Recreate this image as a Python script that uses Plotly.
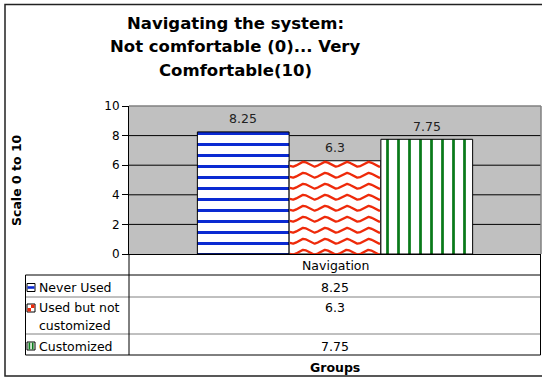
import numpy as np
import plotly.graph_objects as go

# ---- data ----
categories = ["Navigation"]
series_names = ["Never Used", "Used but not customized", "Customized"]
values = [8.25, 6.3, 7.75]
y_ticks = [0, 2, 4, 6, 8, 10]
title_lines = ["Navigating the system:", "Not comfortable (0)... Very", "Comfortable(10)"]
y_title = "Scale 0 to 10"
x_title = "Groups"

# ---- geometry (pixels) ----
W, H = 542, 377
L, R, T, B = 129, 541, 106, 254          # plot area
XR = 2.245                               # half range of the x axis
bar_x = [-1, 0, 1]                       # one slot per series
PXX = (R - L) / (2 * XR)                 # px per x unit
PXY = (B - T) / 10.0                     # px per y unit

BLUE = "#0A2AD2"
RED = "#EE2A0A"
GREEN = "#0A7A1A"
FONT = "DejaVu Sans"


def px(x):
    return (x - L) / (R - L)


def py(y):
    return (B - y) / (B - T)


fig = go.Figure()

# bars
fig.add_trace(go.Bar(
    x=[bar_x[0]], y=[values[0]], width=1, name=series_names[0],
    marker=dict(color="white", opacity=1, line=dict(color="black", width=1),
                pattern=dict(shape="-", fgcolor=BLUE, bgcolor="white",
                             fgopacity=1, size=11, solidity=0.27)),
    opacity=1, hoverinfo="skip"))
fig.add_trace(go.Bar(
    x=[bar_x[1]], y=[values[1]], width=1, name=series_names[1],
    marker=dict(color="white", opacity=1, line=dict(color="black", width=1)),
    opacity=1, hoverinfo="skip"))
fig.add_trace(go.Bar(
    x=[bar_x[2]], y=[values[2]], width=1, name=series_names[2],
    marker=dict(color="white", opacity=1, line=dict(color="black", width=1),
                pattern=dict(shape="|", fgcolor=GREEN, bgcolor="white",
                             fgopacity=1, size=11, solidity=0.25)),
    opacity=1, hoverinfo="skip"))

# wavy fill for the middle bar, built from its value
v = values[1]
x0 = bar_x[1] - 0.5 + 0.8 / PXX
x1 = bar_x[1] + 0.5 - 0.8 / PXX
xx = np.linspace(x0, x1, 240)
amp = 2.4 / PXY
wx, wy = [], []
k = 0
while True:
    yc = v - (3.5 + 11 * k) / PXY
    if yc + amp < 0:
        break
    yy = yc + amp * np.cos(2 * np.pi * ((xx - (bar_x[1] - 0.5)) * PXX - 14.3) / 21.7)
    wx += list(xx) + [None]
    wy += list(yy) + [None]
    k += 1
fig.add_trace(go.Scatter(x=wx, y=wy, mode="lines",
                         line=dict(color=RED, width=2.3),
                         hoverinfo="skip", showlegend=False))

shapes = []
# horizontal grid lines
for t in y_ticks[1:-1]:
    shapes.append(dict(type="line", xref="paper", yref="y", x0=0, x1=1, y0=t, y1=t,
                       line=dict(color="black", width=1), layer="below"))
# plot area top / right border
shapes.append(dict(type="line", xref="paper", yref="paper", x0=0, x1=1, y0=1, y1=1,
                   line=dict(color="#808080", width=1.5), layer="above"))
shapes.append(dict(type="line", xref="paper", yref="paper", x0=1, x1=1, y0=0, y1=1,
                   line=dict(color="#808080", width=1.5), layer="above"))

# data table lines
def hline(y, xa, xb, color="black"):
    shapes.append(dict(type="line", xref="paper", yref="paper",
                       x0=px(xa), x1=px(xb), y0=py(y), y1=py(y),
                       line=dict(color=color, width=1)))


def vline(x, ya, yb, color="black"):
    shapes.append(dict(type="line", xref="paper", yref="paper",
                       x0=px(x), x1=px(x), y0=py(ya), y1=py(yb),
                       line=dict(color=color, width=1)))


TL = 25.5
hline(275, TL, R - 0.5)
hline(297, TL, R - 0.5, "#808080")
hline(334, TL, R - 0.5, "#808080")
hline(355, TL, R - 0.5)
vline(TL, 275, 355)
vline(L, B, 355)
vline(R - 0.5, B, 355)

# outer chart frame
shapes.append(dict(type="rect", xref="paper", yref="paper",
                   x0=px(5), x1=px(560), y0=py(4.5), y1=py(376),
                   line=dict(color="#222222", width=1.5)))

# legend keys in the table
row_y = [287.5, 308.0, 346.0]
KX0, KX1 = 27, 35


def key_box(yc):
    shapes.append(dict(type="rect", xref="paper", yref="paper",
                       x0=px(KX0), x1=px(KX1), y0=py(yc - 4), y1=py(yc + 4),
                       line=dict(color="black", width=1), fillcolor="white"))


def key_fill(xa, xb, ya, yb, color):
    shapes.append(dict(type="rect", xref="paper", yref="paper",
                       x0=px(xa), x1=px(xb), y0=py(ya), y1=py(yb),
                       line=dict(width=0), fillcolor=color))


key_box(row_y[0])
key_fill(KX0 + 0.5, KX1 - 0.5, row_y[0] - 1.3, row_y[0] + 1.3, BLUE)
key_box(row_y[1])
key_fill(KX0 + 0.5, KX0 + 4, row_y[1], row_y[1] + 3.5, RED)
key_fill(KX0 + 4, KX1 - 0.5, row_y[1] - 3.5, row_y[1], RED)
key_box(row_y[2])
key_fill(KX0 + 1.5, KX0 + 3.3, row_y[2] - 3.5, row_y[2] + 3.5, GREEN)
key_fill(KX0 + 4.8, KX0 + 6.6, row_y[2] - 3.5, row_y[2] + 3.5, GREEN)

annotations = []


def label(text, x, y, size=12.5, bold=False, xanchor="center", angle=0):
    annotations.append(dict(
        text=text, xref="paper", yref="paper", x=px(x), y=py(y),
        xanchor=xanchor, yanchor="middle", showarrow=False, textangle=angle,
        font=dict(family=FONT, size=size, color="black",
                  weight="bold" if bold else "normal")))


# title, three centred lines
for line_text, ty in zip(title_lines, [23.5, 47, 70.5]):
    label(line_text, 235, ty, size=16.5, bold=True)

label(y_title, 16, 180, size=12.5, bold=True, angle=-90)
label(x_title, 335, 367, size=12.5, bold=True)

# value labels above the bars
for xi, val in zip(bar_x, values):
    annotations.append(dict(
        text=f"{val:g}", x=xi, y=val, xref="x", yref="y", yshift=13,
        xanchor="center", yanchor="middle", showarrow=False,
        font=dict(family=FONT, size=12.5, color="#222222")))

# table contents
mid_x = (L + R) / 2
label(categories[0], mid_x, 265.5)
label(f"{values[0]:g}", mid_x, row_y[0])
label(f"{values[1]:g}", mid_x, 307.5)
label(f"{values[2]:g}", mid_x, row_y[2])
label("Never Used", 37, row_y[0], xanchor="left")
label("Used but not", 37, 307.5, xanchor="left")
label("customized", 37, 325.5, xanchor="left")
label(series_names[2], 37, row_y[2], xanchor="left")

fig.update_layout(
    width=W, height=H, autosize=False,
    margin=dict(l=L, r=W - R, t=T, b=H - B, pad=0),
    paper_bgcolor="white", plot_bgcolor="#C0C0C0",
    barmode="overlay", showlegend=False,
    shapes=shapes, annotations=annotations,
    xaxis=dict(range=[-XR, XR], showticklabels=False, showgrid=False,
               zeroline=False, showline=True, linecolor="black", linewidth=1,
               ticks="", fixedrange=True),
    yaxis=dict(range=[0, 10], tickvals=y_ticks, showgrid=False, zeroline=False,
               showline=True, linecolor="black", linewidth=1,
               ticks="outside", ticklen=6, tickcolor="black", tickwidth=1,
               tickfont=dict(family=FONT, size=12, color="black"),
               fixedrange=True),
)

fig.write_html("out.html")
